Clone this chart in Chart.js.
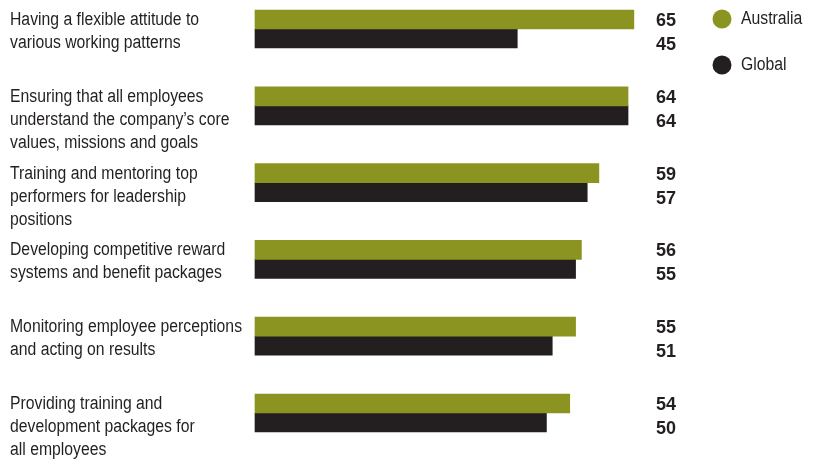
<!DOCTYPE html>
<html>
<head>
<meta charset="utf-8">
<script src="https://cdn.jsdelivr.net/npm/chart.js@4.4.0/dist/chart.umd.min.js"></script>
<style>
  html, body { margin: 0; padding: 0; background: #fff; }
  #wrap { width: 814px; height: 464px; position: relative; }
</style>
</head>
<body>
<div id="wrap"><canvas id="chart" width="814" height="464"></canvas></div>
<script>
// Categories (multi-line labels as drawn)
const categories = [
    ['Having a flexible attitude to', 'various working patterns'],
    ['Ensuring that all employees', 'understand the company\u2019s core', 'values, missions and goals'],
    ['Training and mentoring top', 'performers for leadership', 'positions'],
    ['Developing competitive reward', 'systems and benefit packages'],
    ['Monitoring employee perceptions', 'and acting on results'],
    ['Providing training and', 'development packages for', 'all employees']
];
const australia = [65, 64, 59, 56, 55, 54];
const global = [45, 64, 57, 55, 51, 50];
const seriesNames = ['Australia', 'Global'];
const seriesColors = ['#8b9420', '#231f20'];

const labelFont = '18px "Liberation Sans", Arial, sans-serif';
const valueFont = 'bold 18px "Liberation Sans", Arial, sans-serif';
const squeeze = 0.875; // the original uses a condensed face

// text drawn horizontally condensed, left edge at x
function narrowText(ctx, text, x, y) {
    ctx.save();
    ctx.translate(x, y);
    ctx.scale(squeeze, 1);
    ctx.fillText(text, 0, 0);
    ctx.restore();
}

// Draws category labels, value labels and the legend
const annotations = {
    id: 'annotations',
    afterDatasetsDraw(chart) {
        const ctx = chart.ctx;
        const y = chart.scales.y;
        ctx.save();
        ctx.textBaseline = 'middle';

        // category labels, top-aligned with the bar pair
        ctx.fillStyle = '#231f20';
        ctx.font = labelFont;
        ctx.textAlign = 'left';
        categories.forEach((lines, i) => {
            const c = y.getPixelForValue(i);
            lines.forEach((line, j) => {
                narrowText(ctx, line, 10, c - 9 + j * 23);
            });
        });

        // value labels
        ctx.font = valueFont;
        ctx.textAlign = 'right';
        categories.forEach((_, i) => {
            const c = y.getPixelForValue(i);
            ctx.fillText(String(australia[i]), 676, c - 8);
            ctx.fillText(String(global[i]), 676, c + 16);
        });

        // legend
        ctx.font = labelFont;
        ctx.textAlign = 'left';
        seriesNames.forEach((name, k) => {
            const ly = 19 + k * 46;
            ctx.beginPath();
            ctx.arc(722, ly, 9.5, 0, Math.PI * 2);
            ctx.fillStyle = seriesColors[k];
            ctx.fill();
            ctx.fillStyle = '#231f20';
            narrowText(ctx, name, 741, ly);
        });
        ctx.restore();
    }
};

new Chart(document.getElementById('chart'), {
    type: 'bar',
    data: {
        labels: categories,
        datasets: [
            { label: seriesNames[0], data: australia, backgroundColor: seriesColors[0], barThickness: 19, clip: false },
            { label: seriesNames[1], data: global, backgroundColor: seriesColors[1], barThickness: 19, clip: false }
        ]
    },
    options: {
        indexAxis: 'y',
        responsive: false,
        animation: false,
        layout: { padding: { left: 255, right: 151, top: 29, bottom: 51 } },
        plugins: {
            legend: { display: false },
            tooltip: { enabled: false }
        },
        scales: {
            x: { display: false, min: 0, max: 70 },
            y: { display: false, offset: false }
        }
    },
    plugins: [annotations]
});
</script>
</body>
</html>
